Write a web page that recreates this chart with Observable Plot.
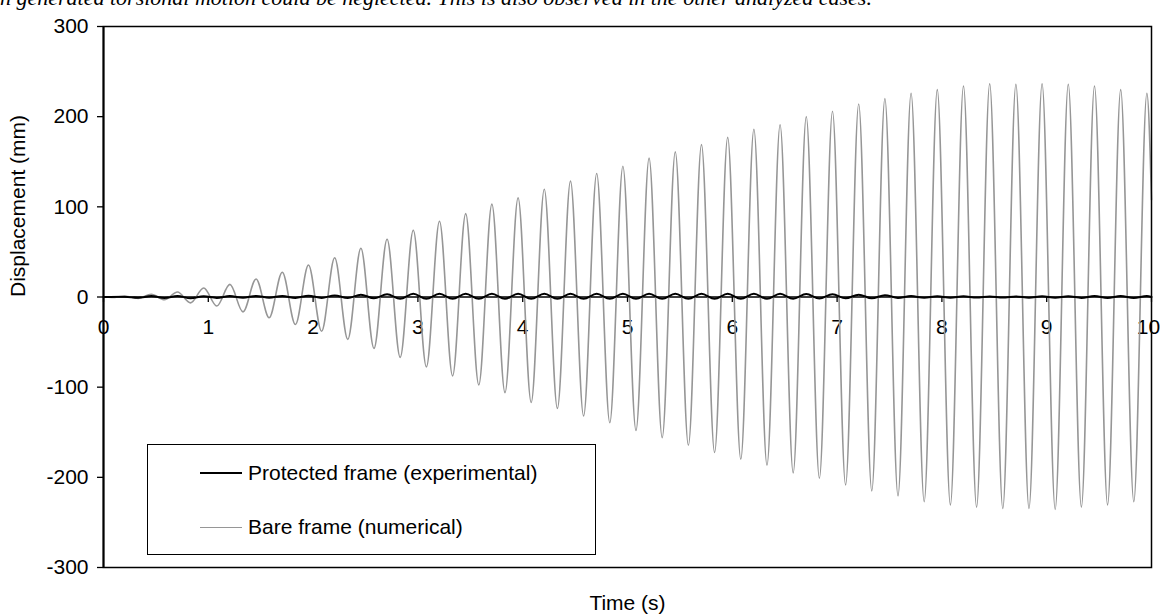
<!DOCTYPE html>
<html>
<head>
<meta charset="utf-8">
<script src="https://cdn.jsdelivr.net/npm/d3@7"></script>
<script src="https://cdn.jsdelivr.net/npm/@observablehq/plot@0.6"></script>
<style>
  html, body { margin: 0; padding: 0; background: white; }
  #wrap { position: relative; width: 1160px; height: 615px; overflow: hidden; }
  #topText { position: absolute; left: 0; top: -13px; font-family: "Liberation Serif", "Times New Roman", serif; font-style: italic; font-size: 22px; line-height: 22px; white-space: nowrap; color: black; }
  #legend { position: absolute; left: 147px; top: 444px; width: 449px; height: 111px; border: 1.3px solid black; background: white; font-family: "Liberation Sans", Arial, sans-serif; font-size: 21px; box-sizing: border-box; }
  .entry { position: absolute; left: 52px; display: flex; align-items: center; }
  .swatch { width: 42px; height: 0; margin-right: 6px; }
</style>
</head>
<body>
<div id="wrap">
  <div id="topText"></div>
  <div id="chart"></div>
  <div id="legend"></div>
</div>
<script>
const topLine = "n generated torsional motion could be neglected. This is also observed in the other analyzed cases.";
const seriesNames = ["Protected frame (experimental)", "Bare frame (numerical)"];
const seriesColors = ["#000000", "#969696"];
const xLabel = "Time (s)";
const yLabel = "Displacement (mm)";
const xTicks = [0, 1, 2, 3, 4, 5, 6, 7, 8, 9, 10];
const yTicks = [-300, -200, -100, 0, 100, 200, 300];

// Bare frame (numerical): successive extrema
const bareTime = [0, 0.081, 0.206, 0.331, 0.456, 0.581, 0.706, 0.831, 0.956, 1.081,
  1.206, 1.331, 1.456, 1.581, 1.706, 1.831, 1.956, 2.081, 2.206, 2.331,
  2.456, 2.581, 2.706, 2.831, 2.956, 3.081, 3.206, 3.331, 3.456, 3.581,
  3.706, 3.831, 3.956, 4.081, 4.206, 4.331, 4.456, 4.581, 4.706, 4.831,
  4.956, 5.081, 5.206, 5.331, 5.456, 5.581, 5.706, 5.831, 5.956, 6.081,
  6.206, 6.331, 6.456, 6.581, 6.706, 6.831, 6.956, 7.081, 7.206, 7.331,
  7.456, 7.581, 7.706, 7.831, 7.956, 8.081, 8.206, 8.331, 8.456, 8.581,
  8.706, 8.831, 8.956, 9.081, 9.206, 9.331, 9.456, 9.581, 9.706, 9.831,
  9.956, 10];
const bareDisp = [0, -0.5, 0.8, -1.5, 3, -3, 5.5, -6.5, 10, -10,
  14, -16.5, 20, -23, 27.5, -30.5, 35.5, -38, 43.5, -47,
  54, -57, 64, -67, 74, -77.5, 84, -87.5, 92.5, -97.5,
  103, -106, 110, -117, 119.5, -123.5, 128.5, -132, 137, -139.5,
  145, -148, 154, -156, 161, -164.5, 169, -172.5, 177, -180,
  186, -186.5, 191, -195, 200, -201, 206, -208.5, 214, -215,
  220, -220.5, 226, -227, 230, -230.5, 234, -233, 236.5, -234.5,
  236, -234.5, 236.5, -235.5, 236, -233, 234, -230.5, 230, -227,
  226, 108];

// Protected frame (experimental): successive extrema
const protTime = [0, 0.2, 0.33, 0.456, 0.581, 0.706, 0.831, 0.956, 1.081,
  1.206, 1.331, 1.456, 1.581, 1.706, 1.831, 1.956, 2.081, 2.206, 2.331,
  2.456, 2.581, 2.706, 2.831, 2.956, 3.081, 3.206, 3.331, 3.456, 3.581,
  3.706, 3.831, 3.956, 4.081, 4.206, 4.331, 4.456, 4.581, 4.706, 4.831,
  4.956, 5.081, 5.206, 5.331, 5.456, 5.581, 5.706, 5.831, 5.956, 6.081,
  6.206, 6.331, 6.456, 6.581, 6.706, 6.831, 6.956, 7.081, 7.206, 7.331,
  7.456, 7.581, 7.706, 7.831, 7.956, 8.081, 8.206, 8.331, 8.456, 8.581,
  8.706, 8.831, 8.956, 9.081, 9.206, 9.331, 9.456, 9.581, 9.706, 9.831,
  9.956, 10];
const protDisp = [0, 0.3, -0.8, 1, -1, 1.2, -1.5, 0.8, -1,
  1, -0.8, 1.2, -0.8, 1.2, -1, 1.5, -1, 1.8, -1.2,
  2.5, -1.5, 3, -2, 3.5, -2, 3.5, -2, 3.5, -2,
  3.5, -2, 3.5, -2, 3.5, -2, 3.5, -2, 3.5, -2,
  3.5, -2, 3.5, -2, 3.5, -2, 3.5, -2, 3.5, -2,
  3.5, -2, 3.5, -2, 3.2, -1.8, 3, -1.5, 2.5, -1.5,
  2, -1, 1, -0.8, 0.8, -0.8, 0.8, -0.6, 0.6, -0.6,
  0.6, -0.8, 0.8, -0.8, 0.8, -1, 1, -1, 1, -1,
  1, 0];

const bare = bareTime.map((t, i) => ({t, v: bareDisp[i]}));
const prot = protTime.map((t, i) => ({t, v: protDisp[i]}));
const innerTicks = xTicks.slice(0, -1);
const lastTick = xTicks.slice(-1);

document.getElementById("topText").textContent = topLine;

const chart = Plot.plot({
  width: 1160,
  height: 615,
  marginLeft: 103,
  marginRight: 9,
  marginTop: 26,
  marginBottom: 48,
  style: {fontFamily: "'Liberation Sans', Arial, sans-serif", fontSize: "21px", background: "transparent", color: "black", overflow: "visible"},
  x: {domain: [0, 10]},
  y: {domain: [-300, 300]},
  marks: [
    Plot.axisY({ticks: yTicks, tickSize: 6, tickPadding: 9, tickFormat: d => String(d), fontSize: 21, label: null, strokeWidth: 1.3}),
    Plot.axisX({ticks: [], label: null, tickSize: 0}),
    Plot.ruleY([0], {stroke: "black", strokeWidth: 1.5}),
    Plot.ruleX(xTicks, {x: d => d, y1: 0, y2: -6, stroke: "black", strokeWidth: 1.3}),
    Plot.text(innerTicks, {x: d => d, y: 0, dy: 30, text: d => String(d), fontSize: 21, lineAnchor: "middle"}),
    Plot.text(lastTick, {x: d => d, y: 0, dy: 30, dx: -3, text: d => String(d), fontSize: 21, lineAnchor: "middle"}),
    Plot.line(bare, {x: "t", y: "v", stroke: seriesColors[1], strokeWidth: 1.6, curve: "monotone-x"}),
    Plot.line(prot, {x: "t", y: "v", stroke: seriesColors[0], strokeWidth: 2, curve: "monotone-x"}),
    Plot.frame({stroke: "black", strokeWidth: 1.5}),
    Plot.ruleX([0], {stroke: "black", strokeWidth: 2}),
    Plot.text([xLabel], {frameAnchor: "bottom", dy: 36, lineAnchor: "middle", text: d => d, fontSize: 21}),
    Plot.text([yLabel], {frameAnchor: "left", dx: -85, rotate: -90, lineAnchor: "middle", text: d => d, fontSize: 21})
  ]
});
document.getElementById("chart").appendChild(chart);

const legend = document.getElementById("legend");
const entryTops = [29, 83];
seriesNames.forEach((name, i) => {
  const e = document.createElement("div");
  e.className = "entry";
  e.style.top = (entryTops[i] - 13) + "px";
  const s = document.createElement("div");
  s.className = "swatch";
  s.style.borderTop = (i === 0 ? 2 : 1.8) + "px solid " + seriesColors[i];
  const txt = document.createElement("span");
  txt.textContent = name;
  e.appendChild(s);
  e.appendChild(txt);
  legend.appendChild(e);
});
</script>
</body>
</html>
